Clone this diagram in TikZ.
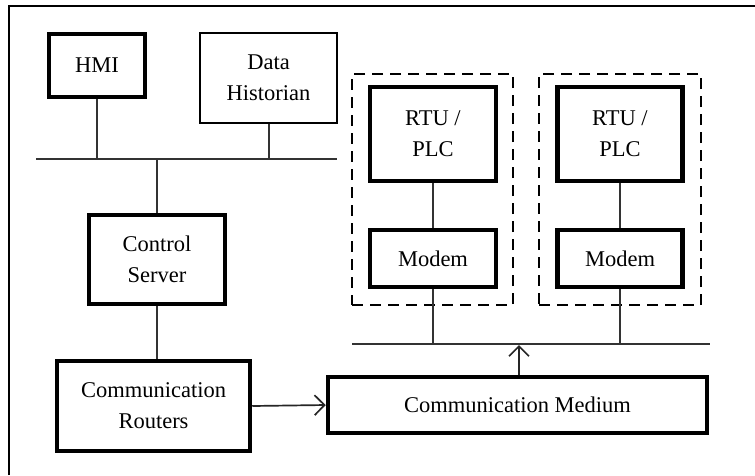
\documentclass[tikz,border=0pt]{standalone}
\usepackage{fontspec}
\setmainfont{Liberation Serif}
\usetikzlibrary{arrows.meta}
\begin{document}
\begin{tikzpicture}[x=1pt,y=-1pt,
  thickbox/.style={draw,line width=4.5pt,align=center,font=\fontsize{22.5}{31}\selectfont,inner sep=0pt},
  thinbox/.style={draw,line width=2.4pt,align=center,font=\fontsize{22.5}{31}\selectfont,inner sep=0pt},
  grp/.style={draw,line width=1.6pt,dash pattern=on 11pt off 7pt},
  wire/.style={line width=1.7pt,draw=black!80},
  arr/.style={line width=1.7pt,draw=black!85,-{Straight Barb[length=10pt,width=20pt,line width=1.7pt]}}]
\useasboundingbox (0,0) rectangle (755,475);
\fill[white] (0,0) rectangle (755,475);
\draw[line width=2.5pt] (9,475) -- (9,6) -- (755,6);
% top group
\node[thickbox,minimum width=96pt,minimum height=63pt] (hmi) at (97,65.5) {HMI};
\node[thinbox,minimum width=137pt,minimum height=90pt] (dh) at (268.5,78) {Data\\Historian};
\coordinate (busL) at (36,159);
\coordinate (busR) at (337,159);
\draw[wire] (busL) -- (busR);
\coordinate (bhmi) at (97,159);
\coordinate (bdh) at (269,159);
\coordinate (bcs) at (157,159);
\draw[wire] (hmi.south) -- (bhmi);
\draw[wire] (dh.south -| bdh) -- (bdh);
\node[thickbox,minimum width=136pt,minimum height=89pt] (cs) at (157,259.5) {Control\\Server};
\draw[wire] (bcs) -- (cs.north);
\node[thickbox,minimum width=193pt,minimum height=90pt] (cr) at (153.5,406) {Communication\\Routers};
\draw[wire] (cs.south) -- (cs.south |- cr.north);
\node[thickbox,minimum width=379pt,minimum height=56pt] (cm) at (517.5,405) {Communication Medium};
\draw[arr] (cr.east) -- (cm.west);
% lower bus
\coordinate (lbL) at (352,344);
\coordinate (lbR) at (710,344);
\draw[wire] (lbL) -- (lbR);
\coordinate (lbarrow) at (519,345);
\draw[arr] (cm.north -| lbarrow) -- (lbarrow);
% field sites
\node[grp,minimum width=161pt,minimum height=231pt] (g1) at (432.5,189.5) {};
\node[grp,minimum width=162pt,minimum height=231pt] (g2) at (620,189.5) {};
\node[thickbox,minimum width=126pt,minimum height=94pt] (rtu1) at (433,134) {RTU /\\PLC};
\node[thickbox,minimum width=126pt,minimum height=57pt] (mod1) at (433,258.5) {Modem};
\node[thickbox,minimum width=125pt,minimum height=94pt] (rtu2) at (620,134) {RTU /\\PLC};
\node[thickbox,minimum width=125pt,minimum height=57pt] (mod2) at (620,258.5) {Modem};
\draw[wire] (rtu1.south) -- (mod1.north);
\draw[wire] (rtu2.south) -- (mod2.north);
\coordinate (b1) at (433,344);
\coordinate (b2) at (620,344);
\draw[wire] (mod1.south) -- (b1);
\draw[wire] (mod2.south) -- (b2);
\end{tikzpicture}
\end{document}
